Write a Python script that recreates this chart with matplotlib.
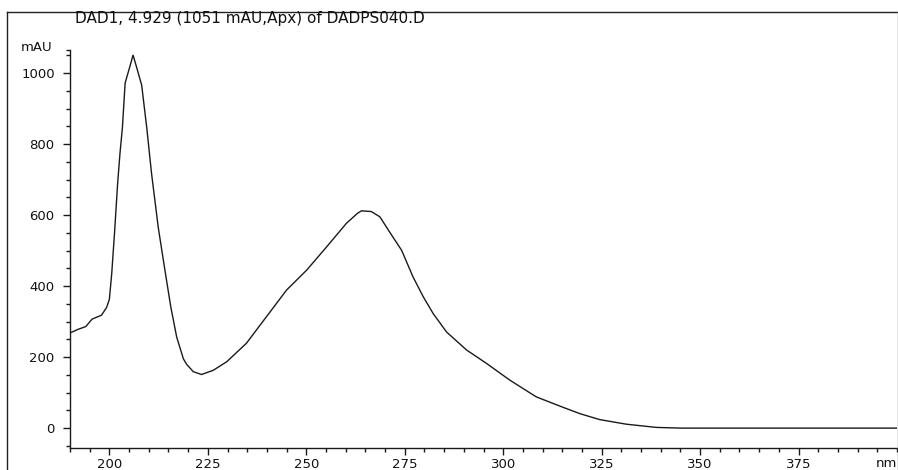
import matplotlib
matplotlib.use("Agg")
import matplotlib.pyplot as plt
import matplotlib.ticker as ticker
from matplotlib.lines import Line2D

# Spectrum.
wavelength_nm = [
    190.0, 192.0, 194.0, 195.6, 198.0, 199.3, 200.0, 200.6, 201.3, 202.1,
    202.7, 203.3, 204.0, 204.8, 205.5, 206.0, 206.9, 208.2, 209.5, 210.7,
    212.4, 214.1, 215.6, 217.1, 218.8, 219.6, 221.3, 223.4, 226.4, 229.8,
    234.8, 239.9, 245.0, 250.1, 255.2, 260.2, 263.0, 264.0, 266.5, 268.7,
    271.0, 274.2, 277.1, 279.7, 282.2, 285.6, 290.7, 295.8, 301.7, 308.4,
    314.4, 319.4, 324.5, 331.3, 338.9, 345.2, 400.0,
]
absorbance_mau = [
    268, 278, 286, 307, 318, 340, 363, 436, 549, 690,
    775, 845, 972, 1003, 1030, 1051, 1017, 966, 845, 718,
    566, 445, 341, 256, 195, 180, 159, 151, 163, 187,
    239, 314, 389, 445, 511, 577, 605, 612, 610, 595,
    555, 501, 426, 370, 323, 271, 220, 182, 135, 88,
    62, 41, 24, 11, 2, 0, 0,
]

title_text = "DAD1, 4.929 (1051 mAU,Apx) of DADPS040.D"
x_major = [200, 225, 250, 275, 300, 325, 350, 375]
y_major = [0, 200, 400, 600, 800, 1000]

W, H = 898, 470
fig = plt.figure(figsize=(W / 100, H / 100), dpi=100)
plt.rcParams["font.family"] = ["DejaVu Sans"]
LABEL_SIZE = 9.5
INK = "#1a1a1a"

# Axes placed in pixel terms to line up with the reference.
left, right, bottom, top = 70, 897, 448, 50
ax = fig.add_axes([left / W, 1 - bottom / H, (right - left) / W, (bottom - top) / H])

ax.plot(wavelength_nm, absorbance_mau, color=INK, lw=1.0, solid_joinstyle="miter")

ymin, ymax = -56, 1065
ax.set_xlim(190, 400)
ax.set_ylim(ymin, ymax)

for spine in ["top", "right"]:
    ax.spines[spine].set_visible(False)
for spine in ["left", "bottom"]:
    ax.spines[spine].set_linewidth(1.0)
    ax.spines[spine].set_color(INK)

ax.xaxis.set_major_locator(ticker.FixedLocator(x_major))
ax.xaxis.set_minor_locator(ticker.MultipleLocator(5))
ax.yaxis.set_major_locator(ticker.FixedLocator(y_major))
ax.yaxis.set_minor_locator(ticker.FixedLocator(list(range(-50, 1051, 50)) + [ymax]))

ax.tick_params(axis="both", which="major", direction="out", length=5, width=1.0,
               color=INK, labelsize=LABEL_SIZE, labelcolor="#111111")
ax.tick_params(axis="y", which="major", pad=6)
ax.tick_params(axis="x", which="major", pad=2)
ax.tick_params(axis="both", which="minor", direction="out", length=3, width=1.0,
               color=INK)

# Unit labels at the axis ends.
ax.text(-0.021, 1.006, "mAU", transform=ax.transAxes, ha="right", va="center",
        fontsize=LABEL_SIZE, color="#111111")
ax.text(1.0, -0.022, "nm", transform=ax.transAxes, ha="right", va="top",
        fontsize=LABEL_SIZE, color="#111111")

fig.text(250 / W, 1 - 19 / H, title_text, ha="center", va="center",
         fontsize=11, color="#111111")

# Outer window frame.
fig.lines.append(Line2D([7 / W, 7 / W], [-0.1, 1 - 12 / H], transform=fig.transFigure,
                        color="#222222", lw=1.0))
fig.lines.append(Line2D([7 / W, 897 / W], [1 - 12 / H, 1 - 12 / H], transform=fig.transFigure,
                        color="#222222", lw=1.0))
fig.lines.append(Line2D([897.5 / W, 897.5 / W], [-0.1, 1 - 12 / H], transform=fig.transFigure,
                        color="#888888", lw=1.0))

fig.savefig("out.png", dpi=100)
